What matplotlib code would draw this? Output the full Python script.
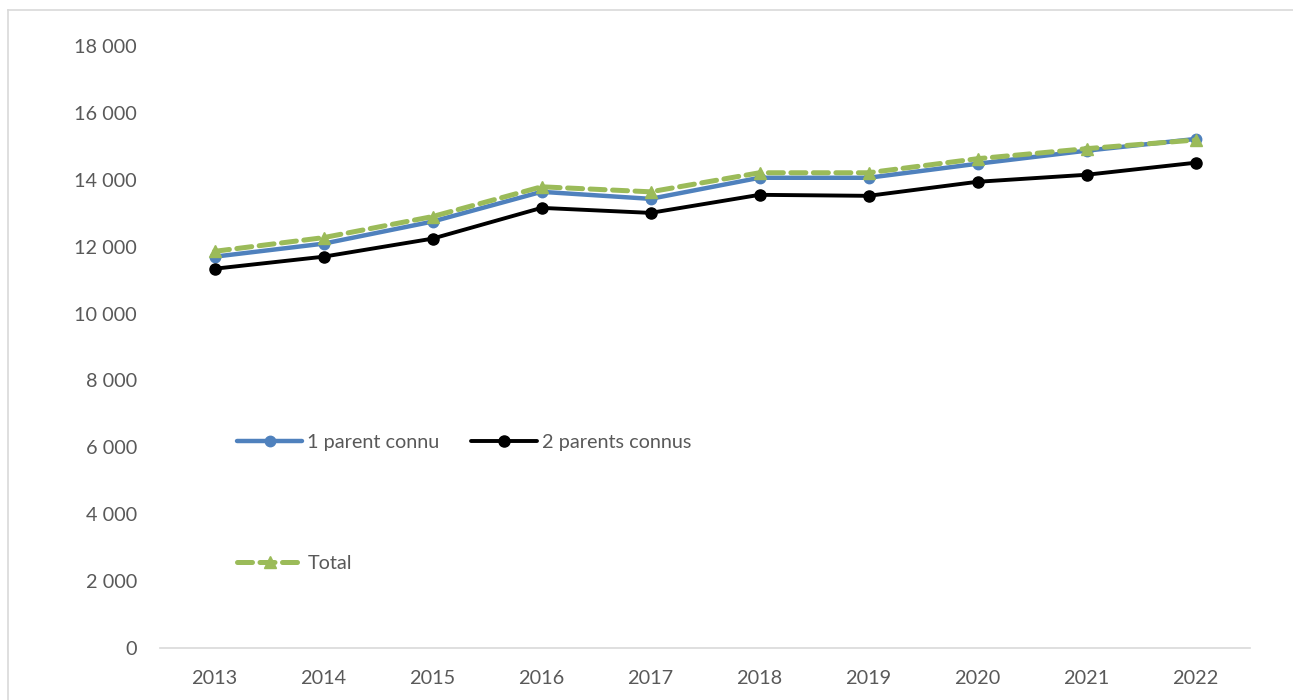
import numpy as np
import matplotlib
matplotlib.use('Agg')
from matplotlib import pyplot as plt
from matplotlib.lines import Line2D
from matplotlib.ticker import FuncFormatter

years = ['2013', '2014', '2015', '2016', '2017', '2018', '2019', '2020', '2021', '2022']
un_parent = [11700, 12090, 12750, 13640, 13430, 14060, 14060, 14480, 14870, 15220]
deux_parents = [11340, 11700, 12240, 13160, 13010, 13550, 13520, 13940, 14150, 14510]
total = [11860, 12270, 12900, 13790, 13640, 14210, 14210, 14630, 14930, 15190]

plt.rcParams['font.family'] = ['Lato', 'DejaVu Sans']
txt = '#595959'

fig = plt.figure(figsize=(12.93, 7), dpi=100)
ax = fig.add_axes([160 / 1293, 52 / 700, 1090 / 1293, 602 / 700])

x = np.arange(len(years))
l1, = ax.plot(x, un_parent, color='#4F81BD', lw=3.2, marker='o', ms=7.5,
              label='1 parent connu', solid_capstyle='round')
l2, = ax.plot(x, deux_parents, color='black', lw=2.8, marker='o', ms=8,
              label='2 parents connus', solid_capstyle='round')
l3, = ax.plot(x, total, color='#9BBB59', lw=3.6, ls=(0, (3, 1.5)), marker='^', ms=8.5,
              label='Total', dash_capstyle='round')

ax.set_xlim(-0.5, len(years) - 0.5)
ax.set_ylim(0, 18000)
ax.set_yticks(range(0, 18001, 2000))
ax.yaxis.set_major_formatter(FuncFormatter(lambda v, p: f'{int(v):,}'.replace(',', ' ')))
ax.set_xticks(x)
ax.set_xticklabels(years)
ax.tick_params(axis='both', length=0, labelsize=14.3, colors=txt)
ax.tick_params(axis='y', pad=16.5)
ax.tick_params(axis='x', pad=16)
for s in ['top', 'right', 'left']:
    ax.spines[s].set_visible(False)
ax.spines['bottom'].set_color('#D9D9D9')
ax.spines['bottom'].set_linewidth(1.2)

leg = fig.legend([l1, l3, l2], ['1 parent connu', 'Total', '2 parents connus'],
                 ncol=2, loc='upper left', bbox_to_anchor=(219 / 1293, 1 - 416 / 700),
                 frameon=False, fontsize=14.3, labelspacing=5.25, handlelength=3.3,
                 columnspacing=1.6, handletextpad=0.25, labelcolor=txt)

# outer chart frame
fig.add_artist(Line2D([8 / 1293, 8 / 1293], [0, 1 - 10 / 700], color='#D9D9D9', lw=1.2))
fig.add_artist(Line2D([8 / 1293, 1], [1 - 10 / 700, 1 - 10 / 700], color='#D9D9D9', lw=1.2))

plt.savefig('out.png', dpi=100)
